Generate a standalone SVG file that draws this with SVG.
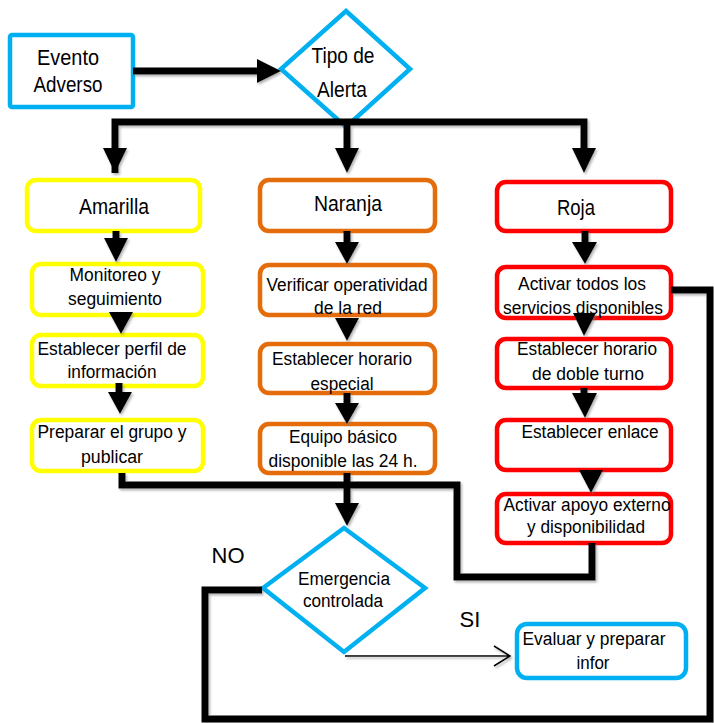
<svg xmlns="http://www.w3.org/2000/svg" width="714" height="723" viewBox="0 0 714 723">
<style>
.box{fill:#fff;stroke-width:4.5}
.y{stroke:#FFFF00}.o{stroke:#E46C0A}.r{stroke:#FF0000}.b{stroke:#00B0F0}
.t{font-family:"Liberation Sans",Arial,sans-serif;font-size:18px;fill:#000;text-anchor:middle}
.tl{font-size:22px}
.ln{fill:none;stroke:#000;stroke-width:7;stroke-linejoin:miter}
.ah{fill:#000}
.thin{fill:none;stroke:#000;stroke-width:1.6}
</style>
<defs>
<filter id="sh" x="-5%" y="-5%" width="110%" height="110%">
<feDropShadow dx="1.5" dy="2" stdDeviation="1.2" flood-color="#777" flood-opacity="0.55"/>
</filter>
</defs>
<rect width="714" height="723" fill="#fff"/>

<g id="n-evento">
<rect class="box b" x="10" y="35" width="123" height="72" rx="2"/>
<text class="t tl" x="68" y="65" textLength="62" lengthAdjust="spacingAndGlyphs">Evento</text>
<text class="t tl" x="68" y="92" textLength="69" lengthAdjust="spacingAndGlyphs">Adverso</text>
</g>
<g id="n-tipo">
<polygon class="box b" points="346,11 410,69 346,127 281,69"/>
<text class="t tl" x="343" y="63" textLength="63" lengthAdjust="spacingAndGlyphs">Tipo de</text>
<text class="t tl" x="342" y="97" textLength="50" lengthAdjust="spacingAndGlyphs">Alerta</text>
</g>

<g id="n-amarilla">
<rect class="box y" x="27" y="180" width="173" height="51" rx="9"/>
<text class="t tl" x="114" y="214" textLength="70" lengthAdjust="spacingAndGlyphs">Amarilla</text>
</g>
<g id="n-monitoreo">
<rect class="box y" x="32" y="264" width="171" height="51" rx="9"/>
<text class="t" x="115" y="281" textLength="91" lengthAdjust="spacingAndGlyphs">Monitoreo y</text>
<text class="t" x="115" y="305" textLength="94" lengthAdjust="spacingAndGlyphs">seguimiento</text>
</g>
<g id="n-perfil">
<rect class="box y" x="32" y="335" width="171" height="51" rx="9"/>
<text class="t" x="112" y="355" textLength="149" lengthAdjust="spacingAndGlyphs">Establecer perfil de</text>
<text class="t" x="112" y="378" textLength="89" lengthAdjust="spacingAndGlyphs">información</text>
</g>
<g id="n-preparar">
<rect class="box y" x="32" y="420" width="171" height="51" rx="9"/>
<text class="t" x="112" y="438" textLength="149" lengthAdjust="spacingAndGlyphs">Preparar el grupo y</text>
<text class="t" x="112" y="463" textLength="62" lengthAdjust="spacingAndGlyphs">publicar</text>
</g>

<g id="n-naranja">
<rect class="box o" x="260" y="180" width="175" height="51" rx="9"/>
<text class="t tl" x="348" y="211" textLength="68" lengthAdjust="spacingAndGlyphs">Naranja</text>
</g>
<g id="n-verificar">
<rect class="box o" x="260" y="265" width="175" height="50" rx="9"/>
<text class="t" x="347" y="291" textLength="161" lengthAdjust="spacingAndGlyphs">Verificar operatividad</text>
<text class="t" x="348" y="314" textLength="68" lengthAdjust="spacingAndGlyphs">de la red</text>
</g>
<g id="n-horario">
<rect class="box o" x="260" y="344" width="175" height="49" rx="9"/>
<text class="t" x="342" y="365" textLength="140" lengthAdjust="spacingAndGlyphs">Establecer horario</text>
<text class="t" x="342" y="390" textLength="63" lengthAdjust="spacingAndGlyphs">especial</text>
</g>
<g id="n-equipo">
<rect class="box o" x="260" y="424" width="175" height="49" rx="9"/>
<text class="t" x="343" y="443" textLength="108" lengthAdjust="spacingAndGlyphs">Equipo básico</text>
<text class="t" x="343" y="467" textLength="149" lengthAdjust="spacingAndGlyphs">disponible las 24 h.</text>
</g>

<g id="n-roja">
<rect class="box r" x="497" y="182" width="174" height="49" rx="9"/>
<text class="t tl" x="576" y="215" textLength="38" lengthAdjust="spacingAndGlyphs">Roja</text>
</g>
<g id="n-activar">
<rect class="box r" x="497" y="267" width="174" height="51" rx="9"/>
<text class="t" x="582" y="290" textLength="128" lengthAdjust="spacingAndGlyphs">Activar todos los</text>
<text class="t" x="583" y="314" textLength="160" lengthAdjust="spacingAndGlyphs">servicios disponibles</text>
</g>
<g id="n-doble">
<rect class="box r" x="497" y="339" width="174" height="49" rx="9"/>
<text class="t" x="587" y="355" textLength="140" lengthAdjust="spacingAndGlyphs">Establecer horario</text>
<text class="t" x="588" y="380" textLength="112" lengthAdjust="spacingAndGlyphs">de doble turno</text>
</g>
<g id="n-enlace">
<rect class="box r" x="497" y="420" width="174" height="50" rx="9"/>
<text class="t" x="590" y="438" textLength="137" lengthAdjust="spacingAndGlyphs">Establecer enlace</text>
</g>
<g id="n-apoyo">
<rect class="box r" x="497" y="494" width="174" height="49" rx="9"/>
<text class="t" x="587" y="511" textLength="167" lengthAdjust="spacingAndGlyphs">Activar apoyo externo</text>
<text class="t" x="586" y="533" textLength="118" lengthAdjust="spacingAndGlyphs">y disponibilidad</text>
</g>

<g id="n-emergencia">
<polygon class="box b" points="344,528 425,588 344,652 263,588"/>
<text class="t" x="344" y="585" textLength="92" lengthAdjust="spacingAndGlyphs">Emergencia</text>
<text class="t" x="343" y="607" textLength="80" lengthAdjust="spacingAndGlyphs">controlada</text>
</g>
<g id="n-evaluar">
<rect class="box b" x="517" y="624" width="169" height="54" rx="10"/>
<text class="t" x="594" y="645" textLength="143" lengthAdjust="spacingAndGlyphs">Evaluar y preparar</text>
<text class="t" x="593" y="669" textLength="33" lengthAdjust="spacingAndGlyphs">infor</text>
</g>

<g id="connectors" filter="url(#sh)">
<path class="ln" d="M133 71H259"/>
<polygon class="ah" points="257,59 281,71 257,83"/>
<path class="ln" d="M115 173V122H584V150M347 122V150"/>
<polygon class="ah" points="103,148 127,148 115,173"/>
<polygon class="ah" points="335,148 359,148 347,173"/>
<polygon class="ah" points="572,148 596,148 584,173"/>

<path class="ln" d="M116 231V240"/>
<polygon class="ah" points="104,238 128,238 116,262"/>
<polygon class="ah" points="109,312 133,312 121,334"/>
<path class="ln" d="M119 383V394"/>
<polygon class="ah" points="108,392 132,392 120,414"/>

<path class="ln" d="M347 231V244"/>
<polygon class="ah" points="335,242 359,242 347,264"/>
<polygon class="ah" points="335,318 359,318 347,341"/>
<path class="ln" d="M347 393V405"/>
<polygon class="ah" points="335,403 359,403 347,424"/>
<path class="ln" d="M347 473V505"/>
<polygon class="ah" points="335,503 359,503 347,526"/>

<path class="ln" d="M585 231V244"/>
<polygon class="ah" points="572,242 597,242 585,264"/>
<polygon class="ah" points="573,313 596,313 584,336"/>
<path class="ln" d="M584 388V395"/>
<polygon class="ah" points="572,393 597,393 585,418"/>
<polygon class="ah" points="579,470 603,470 591,493"/>

<path class="ln" d="M122 473V485H457V577H592V543"/>
<path class="ln" d="M262 590H205V719H710V290H671"/>

<path class="thin" d="M345 656H509M494 646L510 656L494 666"/>
</g>

<text class="t tl" x="228" y="563">NO</text>
<text class="t tl" x="470" y="627">SI</text>
</svg>
